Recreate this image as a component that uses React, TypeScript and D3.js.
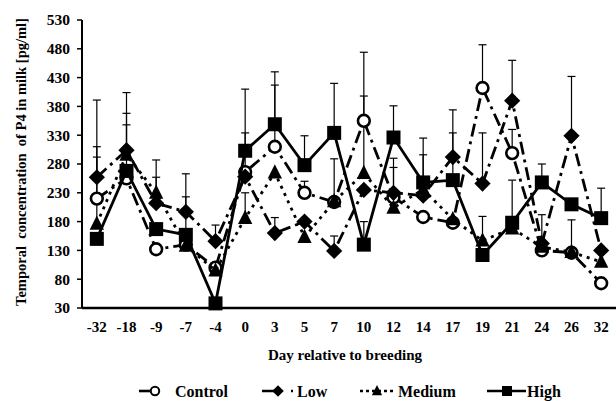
import React, { useEffect, useRef } from "react";
import * as d3 from "d3";

const days = ["-32", "-18", "-9", "-7", "-4", "0", "3", "5", "7", "10", "12", "14", "17", "19", "21", "24", "26", "32"];
const yTicks = [30, 80, 130, 180, 230, 280, 330, 380, 430, 480, 530];

const control = [220, 255, 132, 140, 100, 266, 310, 230, 214, 355, 222, 188, 178, 412, 299, 130, 126, 73];
const controlErr = [90, 93, 0, 0, 0, 68, 107, 20, 75, 119, 68, 0, 0, 75, 41, 0, 0, 0];
const low = [257, 304, 212, 197, 146, 258, 160, 180, 129, 235, 230, 225, 292, 246, 390, 142, 329, 130];
const lowErr = [134, 100, 45, 66, 28, 0, 27, 0, 26, 0, 0, 100, 82, 88, 70, 50, 103, 0];
const medium = [176, 296, 230, 138, 95, 186, 265, 153, 215, 264, 204, 236, 184, 147, 168, 136, 127, 110];
const mediumErr = [116, 72, 57, 0, 0, 44, 0, 0, 0, 134, 70, 0, 0, 42, 0, 0, 56, 0];
const high = [150, 268, 167, 157, 38, 303, 349, 278, 334, 140, 326, 248, 252, 122, 178, 248, 210, 186];
const highErr = [0, 0, 0, 66, 0, 107, 91, 51, 86, 40, 55, 48, 82, 0, 74, 32, 0, 52];

const seriesNames = ["Control", "Low", "Medium", "High"];

const W = 616;
const H = 401;

export default function App() {
  const ref = useRef<SVGSVGElement | null>(null);

  useEffect(() => {
    const svg = d3.select(ref.current);
    svg.selectAll("*").remove();

    const left = 82, right = 616, top = 20, bottom = 308;
    const x = d3.scaleBand().domain(days).range([left, right]);
    const y = d3.scaleLinear().domain([30, 530]).range([bottom, top]);
    const cx = (d: string) => (x(d) || 0) + x.bandwidth() / 2;
    const font = "'Liberation Serif', 'Times New Roman', serif";

    const series = [
      { name: seriesNames[0], vals: control, err: controlErr, dash: "13,5,3,5", marker: "circle" },
      { name: seriesNames[1], vals: low, err: lowErr, dash: "13,5,3,5", marker: "diamond" },
      { name: seriesNames[2], vals: medium, err: mediumErr, dash: "3,5", marker: "triangle" },
      { name: seriesNames[3], vals: high, err: highErr, dash: null, marker: "square" },
    ];

    const drawMarker = (g: any, kind: string, px: number, py: number, s: number) => {
      if (kind === "circle") {
        g.append("circle").attr("cx", px).attr("cy", py).attr("r", s * 0.42)
          .attr("fill", "#fff").attr("stroke", "#000").attr("stroke-width", s > 12 ? 2.6 : 2);
      } else if (kind === "diamond") {
        const r = s * 0.58;
        g.append("path").attr("d", `M${px},${py - r}L${px + r},${py}L${px},${py + r}L${px - r},${py}Z`).attr("fill", "#000");
      } else if (kind === "triangle") {
        const r = s * 0.6;
        g.append("path").attr("d", `M${px},${py - r}L${px + r * 0.85},${py + r * 0.7}L${px - r * 0.85},${py + r * 0.7}Z`).attr("fill", "#000");
      } else {
        const r = s * 0.5;
        g.append("rect").attr("x", px - r).attr("y", py - r).attr("width", 2 * r).attr("height", 2 * r).attr("fill", "#000");
      }
    };

    // error bars
    const eb = svg.append("g").attr("stroke", "#000").attr("stroke-width", 1.2);
    series.forEach(s => {
      s.vals.forEach((v, i) => {
        if (!s.err[i]) return;
        const px = cx(days[i]);
        eb.append("line").attr("x1", px).attr("x2", px).attr("y1", y(v)).attr("y2", y(v + s.err[i]));
        eb.append("line").attr("x1", px - 4).attr("x2", px + 4).attr("y1", y(v + s.err[i])).attr("y2", y(v + s.err[i]));
      });
    });

    // lines and markers
    const line = d3.line<number>().x((_, i) => cx(days[i])).y(d => y(d));
    series.forEach(s => {
      const g = svg.append("g");
      g.append("path").attr("d", line(s.vals)).attr("fill", "none").attr("stroke", "#000")
        .attr("stroke-width", 2.8).attr("stroke-dasharray", s.dash);
      s.vals.forEach((v, i) => drawMarker(g, s.marker, cx(days[i]), y(v), 14));
    });

    // axes
    svg.append("line").attr("x1", left).attr("x2", left).attr("y1", top).attr("y2", bottom)
      .attr("stroke", "#000").attr("stroke-width", 2);
    svg.append("line").attr("x1", left).attr("x2", right).attr("y1", bottom).attr("y2", bottom)
      .attr("stroke", "#000").attr("stroke-width", 2.5);

    yTicks.forEach(t => {
      svg.append("line").attr("x1", left - 5).attr("x2", left).attr("y1", y(t)).attr("y2", y(t))
        .attr("stroke", "#000").attr("stroke-width", 1.5);
      svg.append("text").attr("x", left - 12).attr("y", y(t)).attr("dy", "0.35em")
        .attr("text-anchor", "end").attr("font-family", font).attr("font-weight", "bold")
        .attr("font-size", 15.5).text(t);
    });

    days.forEach(d => {
      svg.append("text").attr("x", cx(d)).attr("y", 332).attr("text-anchor", "middle")
        .attr("font-family", font).attr("font-weight", "bold").attr("font-size", 15).text(d);
    });

    svg.append("text").attr("x", 345).attr("y", 360).attr("text-anchor", "middle")
      .attr("font-family", font).attr("font-weight", "bold").attr("font-size", 15)
      .text("Day relative to breeding");

    svg.append("text").attr("transform", `translate(26,${(top + bottom) / 2 - 2}) rotate(-90)`)
      .attr("text-anchor", "middle").attr("font-family", font).attr("font-weight", "bold")
      .attr("font-size", 14.5).attr("xml:space", "preserve")
      .text("Temporal  concentration  of P4 in milk [pg/ml]");

    // legend
    const ly = 391;
    const legendPos = [
      { x1: 139, x2: 172, dash: "13,22,3", m: 155, t: 175 },
      { x1: 262, x2: 293, dash: "12,17,3", m: 278, t: 297 },
      { x1: 360, x2: 394, dash: "3,3", m: 377, t: 398 },
      { x1: 487, x2: 526, dash: null, m: 507, t: 527 },
    ];
    series.forEach((s, i) => {
      const p = legendPos[i];
      const g = svg.append("g");
      g.append("line").attr("x1", p.x1).attr("x2", p.x2).attr("y1", ly).attr("y2", ly)
        .attr("stroke", "#000").attr("stroke-width", 2.6).attr("stroke-dasharray", p.dash);
      drawMarker(g, s.marker, p.m, ly, 10);
      g.append("text").attr("x", p.t).attr("y", ly).attr("dy", "0.35em")
        .attr("font-family", font).attr("font-weight", "bold").attr("font-size", 16).text(s.name);
    });
  }, []);

  return <svg ref={ref} width={W} height={H} style={{ position: "absolute", left: 0, top: 0, background: "#fff" }} />;
}
